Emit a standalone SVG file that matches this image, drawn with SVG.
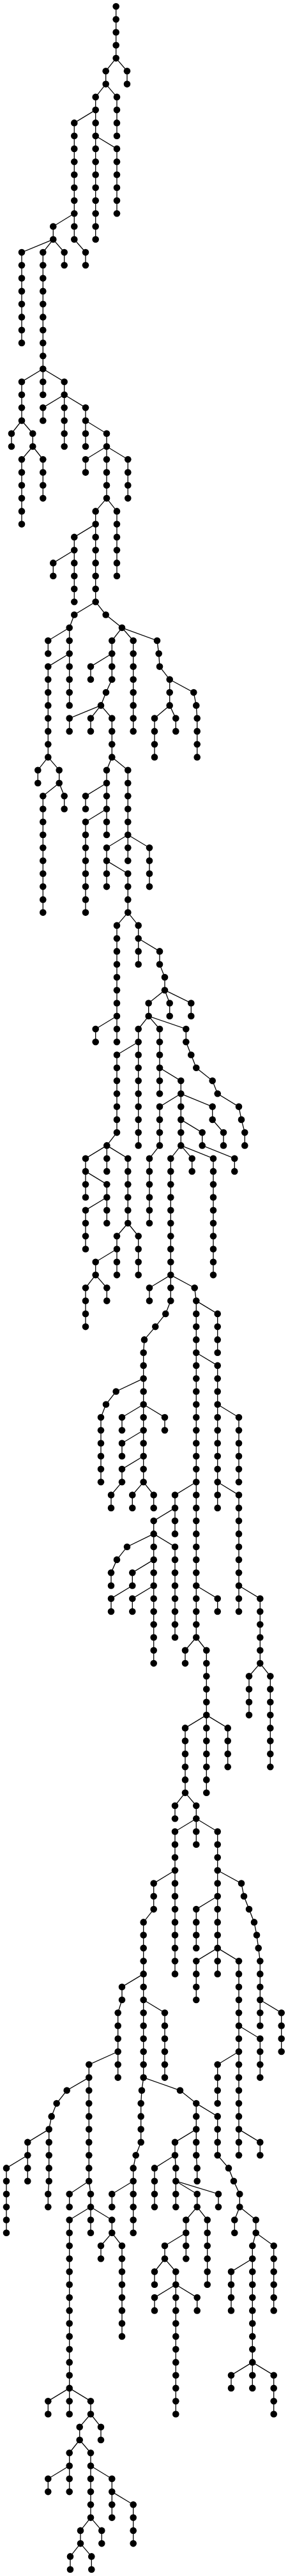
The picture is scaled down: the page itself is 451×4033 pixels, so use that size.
<svg xmlns="http://www.w3.org/2000/svg" width="451" height="4033" viewBox="0 0 451 4033">
<style>
rect.bg{fill:#fff}
#edges path{fill:none;stroke:#000;stroke-width:1.3}
circle{r:5.3px;fill:#000}
</style>
<rect class="bg" x="0" y="0" width="451" height="4033"/>
<g id="edges">
<path d="M181.7 10V91.1"/>
<path d="M181.7 91.1L199 111.3V131.6"/>
<path d="M181.7 91.1L165.7 111.3V131.6"/>
<path d="M165.7 131.6L183 151.9V212.7"/>
<path d="M165.7 131.6L149.7 151.9V172.1"/>
<path d="M149.7 172.1L116.3 192.4V334.3"/>
<path d="M149.7 172.1V212.7"/>
<path d="M149.7 212.7V374.8"/>
<path d="M149.7 212.7L183 232.9V334.3"/>
<path d="M116.3 334.3V374.8L134 395.1V415.3"/>
<path d="M116.3 334.3L83.3 354.5V374.8"/>
<path d="M83.3 374.8L34 395.1V536.9"/>
<path d="M83.3 374.8L67.3 395.1V577.5"/>
<path d="M83.3 374.8L100.7 395.1V415.3"/>
<path d="M67.3 577.5L34 597.7V658.5"/>
<path d="M67.3 577.5V618"/>
<path d="M67.3 577.5L100.7 597.7V618"/>
<path d="M34 658.5L18 678.8V699"/>
<path d="M34 658.5L51.3 678.8V699"/>
<path d="M51.3 699L34 719.3V820.6"/>
<path d="M51.3 699L67.3 719.3V780.1"/>
<path d="M100.7 618L67.3 638.2V658.5"/>
<path d="M100.7 618V699"/>
<path d="M100.7 618L134 638.2V658.5"/>
<path d="M134 658.5V699"/>
<path d="M134 658.5L167 678.8V699"/>
<path d="M167 699L134 719.3V739.6"/>
<path d="M167 699V780.1"/>
<path d="M167 699L200.3 719.3V780.1"/>
<path d="M167 780.1L149.7 800.4V820.6"/>
<path d="M167 780.1L183 800.4V901.7"/>
<path d="M149.7 820.6L116.3 840.9V861.2"/>
<path d="M149.7 820.6V942.2"/>
<path d="M116.3 861.2L83.3 881.4V901.7"/>
<path d="M116.3 861.2V942.2"/>
<path d="M149.7 942.2L116.3 962.5L108.7 982.8"/>
<path d="M149.7 942.2L165.7 962.5L191 982.8"/>
<path d="M108.7 982.8L75.3 1003V1023.3"/>
<path d="M108.7 982.8V1023.3"/>
<path d="M108.7 1023.3L75.3 1043.6V1185.4"/>
<path d="M108.7 1023.3V1104.4"/>
<path d="M75.3 1185.4L59.3 1205.7V1226"/>
<path d="M75.3 1185.4L92.7 1205.7V1226"/>
<path d="M92.7 1226L67.3 1246.2V1428.6"/>
<path d="M92.7 1226L100.7 1246.2V1266.5"/>
<path d="M191 982.8L175.3 1003V1023.3"/>
<path d="M191 982.8L208.7 1003V1144.9"/>
<path d="M191 982.8L246 1003L248.7 1023.3L250 1043.6L265.7 1063.8"/>
<path d="M175.3 1023.3L142 1043.6V1063.8"/>
<path d="M175.3 1023.3V1063.8L166 1084.1L158 1104.4"/>
<path d="M158 1104.4L108.7 1124.6V1144.9"/>
<path d="M158 1104.4L142 1124.6V1144.9"/>
<path d="M158 1104.4L175.3 1124.6V1185.4"/>
<path d="M175.3 1185.4L167 1205.7V1226"/>
<path d="M175.3 1185.4L200.3 1205.7V1307"/>
<path d="M167 1226L134 1246.2V1266.5"/>
<path d="M167 1226V1266.5"/>
<path d="M167 1266.5L134 1286.8V1428.6"/>
<path d="M167 1266.5V1307"/>
<path d="M200.3 1307L167 1327.3V1347.6"/>
<path d="M200.3 1307V1347.6"/>
<path d="M200.3 1307L234 1327.3V1388.1"/>
<path d="M167 1347.6V1388.1"/>
<path d="M167 1347.6L200.3 1367.8V1428.6"/>
<path d="M265.7 1063.8V1104.4"/>
<path d="M265.7 1063.8L303.3 1084.1L307.3 1104.4L308.7 1124.6V1185.4"/>
<path d="M265.7 1104.4L242 1124.6V1185.4"/>
<path d="M265.7 1104.4L275.3 1124.6V1144.9"/>
<path d="M200.3 1428.6L183 1448.9V1590.8"/>
<path d="M200.3 1428.6L216.7 1448.9V1469.2"/>
<path d="M183 1590.8L149.7 1611V1631.3"/>
<path d="M183 1590.8V1631.3"/>
<path d="M216.7 1469.2V1509.7"/>
<path d="M216.7 1469.2L250 1489.4V1509.7L258 1530V1550.2"/>
<path d="M258 1550.2L232.7 1570.5V1590.8"/>
<path d="M258 1550.2L265.7 1570.5V1590.8"/>
<path d="M258 1550.2L299.3 1570.5V1590.8"/>
<path d="M232.7 1590.8L216.7 1611V1631.3"/>
<path d="M232.7 1590.8L250 1611V1671.8"/>
<path d="M232.7 1590.8L291.3 1611V1631.3L299.3 1651.5L307.3 1671.8L332.7 1692.1L340.7 1712.3L374 1732.6L378 1752.9L383.3 1773.1V1793.4"/>
<path d="M216.7 1631.3L183 1651.5V1773.1"/>
<path d="M216.7 1631.3V1793.4"/>
<path d="M250 1671.8V1712.3"/>
<path d="M250 1671.8L283.3 1692.1V1712.3"/>
<path d="M283.3 1712.3L250 1732.6V1793.4L234 1813.7V1915"/>
<path d="M283.3 1712.3V1752.9"/>
<path d="M283.3 1712.3L332.7 1732.6V1752.9L350 1773.1V1793.4"/>
<path d="M283.3 1752.9V1793.4"/>
<path d="M283.3 1752.9L316.7 1773.1V1793.4L367.3 1813.7V1833.9"/>
<path d="M283.3 1793.4L267.3 1813.7V1996.1"/>
<path d="M283.3 1793.4L300.7 1813.7V1833.9"/>
<path d="M283.3 1793.4L334 1813.7V1996.1"/>
<path d="M183 1773.1L167.3 1793.4"/>
<path d="M167.3 1793.4L134 1813.7V1833.9"/>
<path d="M167.3 1793.4V1833.9"/>
<path d="M167.3 1793.4L200.3 1813.7V1915"/>
<path d="M134 1833.9V1874.5"/>
<path d="M134 1833.9L167.3 1854.2V1874.5"/>
<path d="M167.3 1874.5L134 1894.7V1955.5"/>
<path d="M167.3 1874.5V1915"/>
<path d="M200.3 1915L183 1935.3V1955.5"/>
<path d="M200.3 1915L216.7 1935.3V1996.1"/>
<path d="M183 1955.5L149.7 1975.8V1996.1"/>
<path d="M183 1955.5V1996.1"/>
<path d="M149.7 1996.1L134 2016.3V2077.1"/>
<path d="M149.7 1996.1L167.3 2016.3V2036.6"/>
<path d="M267.3 1996.1L234 2016.3V2036.6"/>
<path d="M267.3 1996.1V2036.6L259.3 2056.9L243.3 2077.1L226 2097.4L224.7 2117.7V2158.2"/>
<path d="M267.3 1996.1L304.7 2016.3L307.3 2036.6"/>
<path d="M307.3 2036.6V2117.7"/>
<path d="M307.3 2036.6L340.7 2056.9V2117.7"/>
<path d="M307.3 2117.7V2320.3"/>
<path d="M307.3 2117.7L340.7 2137.9V2198.7"/>
<path d="M340.7 2198.7V2320.3"/>
<path d="M340.7 2198.7L374 2219V2320.3"/>
<path d="M224.7 2158.2L181.7 2178.5L166 2198.7L158 2219V2320.3"/>
<path d="M224.7 2158.2V2198.7"/>
<path d="M224.7 2198.7L191 2219V2239.3"/>
<path d="M224.7 2198.7V2239.3"/>
<path d="M224.7 2198.7L258 2219V2239.3"/>
<path d="M224.7 2239.3L191 2259.5V2279.8"/>
<path d="M224.7 2239.3V2279.8"/>
<path d="M224.7 2279.8L191 2300.1V2320.3L174 2340.6V2360.9"/>
<path d="M224.7 2279.8V2320.3"/>
<path d="M224.7 2320.3L207.3 2340.6V2360.9"/>
<path d="M224.7 2320.3L240.7 2340.6V2360.9"/>
<path d="M307.3 2320.3L274 2340.6V2360.9"/>
<path d="M307.3 2320.3V2482.5"/>
<path d="M340.7 2320.3V2360.9"/>
<path d="M340.7 2320.3L374 2340.6V2482.5"/>
<path d="M274 2360.9L240.7 2381.1V2401.4"/>
<path d="M274 2360.9V2401.4"/>
<path d="M240.7 2401.4L199 2421.7L183 2441.9L174 2462.2V2482.5"/>
<path d="M240.7 2401.4V2441.9"/>
<path d="M240.7 2401.4L274 2421.7V2563.5"/>
<path d="M240.7 2441.9L207.3 2462.2V2482.5"/>
<path d="M240.7 2441.9V2482.5"/>
<path d="M207.3 2482.5L174 2502.7V2523"/>
<path d="M240.7 2482.5L207.3 2502.7V2523"/>
<path d="M240.7 2482.5V2604.1"/>
<path d="M307.3 2482.5V2563.5"/>
<path d="M307.3 2482.5L340.7 2502.7V2523"/>
<path d="M307.3 2563.5L290 2583.8V2604.1"/>
<path d="M307.3 2563.5L323.3 2583.8V2685.1"/>
<path d="M374 2482.5V2523"/>
<path d="M374 2482.5L407.3 2502.7V2604.1"/>
<path d="M407.3 2604.1L390 2624.3V2685.1"/>
<path d="M407.3 2604.1L423.3 2624.3V2766.2"/>
<path d="M323.3 2685.1L290 2705.4V2806.7"/>
<path d="M323.3 2685.1V2806.7"/>
<path d="M323.3 2685.1L356.7 2705.4V2766.2"/>
<path d="M290 2806.7L274 2827V2847.2"/>
<path d="M290 2806.7L307.3 2827V2847.2"/>
<path d="M307.3 2847.2L274 2867.5V2928.3"/>
<path d="M307.3 2847.2V2887.8"/>
<path d="M307.3 2847.2L340.7 2867.5V2928.3"/>
<path d="M274 2928.3L240.7 2948.6V2989.1L224.7 3009.4V3090.4"/>
<path d="M274 2928.3V3090.4"/>
<path d="M340.7 2928.3V2968.8"/>
<path d="M340.7 2928.3L378 2948.6L382 2968.8L390 2989.1L398 3009.4L402 3029.6L404.7 3049.9L407.3 3070.2V3131"/>
<path d="M340.7 2968.8L307.3 2989.1V3049.9"/>
<path d="M340.7 2968.8V3049.9"/>
<path d="M340.7 3049.9L307.3 3070.2V3131"/>
<path d="M340.7 3049.9V3090.4"/>
<path d="M340.7 3049.9L374 3070.2V3171.5"/>
<path d="M407.3 3131V3171.5"/>
<path d="M407.3 3131L440.7 3151.2V3212"/>
<path d="M374 3171.5V3212"/>
<path d="M374 3171.5L407.3 3191.8V3252.6"/>
<path d="M374 3212L340.7 3232.3V3293.1"/>
<path d="M374 3212V3333.6"/>
<path d="M374 3333.6V3374.2"/>
<path d="M374 3333.6L407.3 3353.9V3374.2"/>
<path d="M224.7 3090.4L191 3110.7V3131L184.7 3151.2V3212"/>
<path d="M224.7 3090.4V3131"/>
<path d="M184.7 3212L139.3 3232.3V3252.6"/>
<path d="M184.7 3212V3252.6"/>
<path d="M139.3 3252.6L104.7 3272.8L88.7 3293.1L80.7 3313.4L76.7 3333.6"/>
<path d="M139.3 3252.6V3414.7"/>
<path d="M76.7 3333.6L43.3 3353.9V3374.2"/>
<path d="M76.7 3333.6V3414.7L75.3 3435V3455.2"/>
<path d="M43.3 3374.2L10 3394.4V3495.8"/>
<path d="M43.3 3374.2V3414.7"/>
<path d="M139.3 3414.7L108.7 3435V3455.2"/>
<path d="M139.3 3414.7L142 3435V3455.2"/>
<path d="M142 3455.2L108.7 3475.5V3738.9"/>
<path d="M142 3455.2V3495.8"/>
<path d="M142 3455.2L175.3 3475.5V3495.8"/>
<path d="M175.3 3495.8L158 3516V3536.3"/>
<path d="M175.3 3495.8L191 3516V3657.9"/>
<path d="M224.7 3131V3252.6"/>
<path d="M224.7 3131L258 3151.2V3252.6"/>
<path d="M224.7 3252.6L222 3272.8L220.7 3293.1V3353.9L212.7 3374.2L208.7 3394.4V3414.7"/>
<path d="M224.7 3252.6L282 3272.8L307.3 3293.1"/>
<path d="M208.7 3414.7L175.3 3435V3455.2"/>
<path d="M208.7 3414.7V3495.8"/>
<path d="M307.3 3293.1V3333.6"/>
<path d="M307.3 3293.1L340.7 3313.4V3374.2L358 3394.4L366 3414.7L375.3 3435V3455.2"/>
<path d="M307.3 3333.6L274 3353.9V3374.2"/>
<path d="M307.3 3333.6V3374.2L308.7 3394.4V3414.7"/>
<path d="M274 3374.2L242 3394.4V3455.2"/>
<path d="M274 3374.2L275.3 3394.4V3414.7"/>
<path d="M275.3 3414.7V3455.2"/>
<path d="M275.3 3414.7L308.7 3435V3455.2"/>
<path d="M275.3 3414.7L342 3435V3455.2"/>
<path d="M308.7 3455.2L291.3 3475.5V3495.8"/>
<path d="M308.7 3455.2L324.7 3475.5V3576.8"/>
<path d="M291.3 3495.8L258 3516V3536.3"/>
<path d="M291.3 3495.8V3536.3"/>
<path d="M258 3536.3L242 3556.6V3576.8"/>
<path d="M258 3536.3L275.3 3556.6V3576.8"/>
<path d="M275.3 3576.8L242 3597.1V3617.4"/>
<path d="M275.3 3576.8V3779.5"/>
<path d="M275.3 3576.8L308.7 3597.1V3617.4"/>
<path d="M375.3 3455.2L367.3 3475.5V3495.8"/>
<path d="M375.3 3455.2L400.7 3475.5V3495.8"/>
<path d="M400.7 3495.8L395.3 3516V3536.3"/>
<path d="M400.7 3495.8L428.7 3516V3617.4"/>
<path d="M395.3 3536.3L362 3556.6V3617.4"/>
<path d="M395.3 3536.3V3698.4"/>
<path d="M395.3 3698.4L362 3718.7V3738.9"/>
<path d="M395.3 3698.4V3738.9"/>
<path d="M395.3 3698.4L428.7 3718.7V3779.5"/>
<path d="M108.7 3738.9L75.3 3759.2V3779.5"/>
<path d="M108.7 3738.9V3779.5"/>
<path d="M108.7 3738.9L142 3759.2V3779.5"/>
<path d="M142 3779.5L124.7 3799.7V3820"/>
<path d="M142 3779.5L158 3799.7V3820"/>
<path d="M124.7 3820L108.7 3840.3V3860.5"/>
<path d="M124.7 3820L142 3840.3V3860.5"/>
<path d="M108.7 3860.5L75.3 3880.8V3901.1"/>
<path d="M108.7 3860.5V3901.1"/>
<path d="M142 3860.5V3941.6"/>
<path d="M142 3860.5L175.3 3880.8V3901.1"/>
<path d="M175.3 3901.1V3941.6"/>
<path d="M175.3 3901.1L208.7 3921.3V3982.1"/>
<path d="M142 3941.6L126 3961.9V3982.1"/>
<path d="M142 3941.6L159.3 3961.9V3982.1"/>
<path d="M126 3982.1L110 4002.4V4022.7"/>
<path d="M126 3982.1L143.3 4002.4V4022.7"/>
</g>
<g id="nodes">
<g id="n1"><circle cx="181.7" cy="10"/></g>
<g id="n2"><circle cx="181.7" cy="30.3"/></g>
<g id="n3"><circle cx="181.7" cy="50.5"/></g>
<g id="n4"><circle cx="181.7" cy="70.8"/></g>
<g id="n5"><circle cx="181.7" cy="91.1"/></g>
<g id="n6"><circle cx="199" cy="111.3"/></g>
<g id="n7"><circle cx="199" cy="131.6"/></g>
<g id="n8"><circle cx="165.7" cy="111.3"/></g>
<g id="n9"><circle cx="165.7" cy="131.6"/></g>
<g id="n10"><circle cx="183" cy="151.9"/></g>
<g id="n11"><circle cx="183" cy="172.1"/></g>
<g id="n12"><circle cx="183" cy="192.4"/></g>
<g id="n13"><circle cx="183" cy="212.7"/></g>
<g id="n14"><circle cx="149.7" cy="151.9"/></g>
<g id="n15"><circle cx="149.7" cy="172.1"/></g>
<g id="n16"><circle cx="116.3" cy="192.4"/></g>
<g id="n17"><circle cx="116.3" cy="212.7"/></g>
<g id="n18"><circle cx="116.3" cy="232.9"/></g>
<g id="n19"><circle cx="116.3" cy="253.2"/></g>
<g id="n20"><circle cx="116.3" cy="273.5"/></g>
<g id="n21"><circle cx="116.3" cy="293.7"/></g>
<g id="n22"><circle cx="116.3" cy="314"/></g>
<g id="n23"><circle cx="116.3" cy="334.3"/></g>
<g id="n24"><circle cx="149.7" cy="192.4"/></g>
<g id="n25"><circle cx="149.7" cy="212.7"/></g>
<g id="n26"><circle cx="149.7" cy="232.9"/></g>
<g id="n27"><circle cx="149.7" cy="253.2"/></g>
<g id="n28"><circle cx="149.7" cy="273.5"/></g>
<g id="n29"><circle cx="149.7" cy="293.7"/></g>
<g id="n30"><circle cx="149.7" cy="314"/></g>
<g id="n31"><circle cx="149.7" cy="334.3"/></g>
<g id="n32"><circle cx="149.7" cy="354.5"/></g>
<g id="n33"><circle cx="149.7" cy="374.8"/></g>
<g id="n34"><circle cx="183" cy="232.9"/></g>
<g id="n35"><circle cx="183" cy="253.2"/></g>
<g id="n36"><circle cx="183" cy="273.5"/></g>
<g id="n37"><circle cx="183" cy="293.7"/></g>
<g id="n38"><circle cx="183" cy="314"/></g>
<g id="n39"><circle cx="183" cy="334.3"/></g>
<g id="n40"><circle cx="116.3" cy="354.5"/></g>
<g id="n41"><circle cx="116.3" cy="374.8"/></g>
<g id="n42"><circle cx="134" cy="395.1"/></g>
<g id="n43"><circle cx="134" cy="415.3"/></g>
<g id="n44"><circle cx="83.3" cy="354.5"/></g>
<g id="n45"><circle cx="83.3" cy="374.8"/></g>
<g id="n46"><circle cx="34" cy="395.1"/></g>
<g id="n47"><circle cx="34" cy="415.3"/></g>
<g id="n48"><circle cx="34" cy="435.6"/></g>
<g id="n49"><circle cx="34" cy="455.9"/></g>
<g id="n50"><circle cx="34" cy="476.1"/></g>
<g id="n51"><circle cx="34" cy="496.4"/></g>
<g id="n52"><circle cx="34" cy="516.7"/></g>
<g id="n53"><circle cx="34" cy="536.9"/></g>
<g id="n54"><circle cx="67.3" cy="395.1"/></g>
<g id="n55"><circle cx="67.3" cy="415.3"/></g>
<g id="n56"><circle cx="67.3" cy="435.6"/></g>
<g id="n57"><circle cx="67.3" cy="455.9"/></g>
<g id="n58"><circle cx="67.3" cy="476.1"/></g>
<g id="n59"><circle cx="67.3" cy="496.4"/></g>
<g id="n60"><circle cx="67.3" cy="516.7"/></g>
<g id="n61"><circle cx="67.3" cy="536.9"/></g>
<g id="n62"><circle cx="67.3" cy="557.2"/></g>
<g id="n63"><circle cx="67.3" cy="577.5"/></g>
<g id="n64"><circle cx="100.7" cy="395.1"/></g>
<g id="n65"><circle cx="100.7" cy="415.3"/></g>
<g id="n66"><circle cx="34" cy="597.7"/></g>
<g id="n67"><circle cx="34" cy="618"/></g>
<g id="n68"><circle cx="34" cy="638.2"/></g>
<g id="n69"><circle cx="34" cy="658.5"/></g>
<g id="n70"><circle cx="67.3" cy="597.7"/></g>
<g id="n71"><circle cx="67.3" cy="618"/></g>
<g id="n72"><circle cx="100.7" cy="597.7"/></g>
<g id="n73"><circle cx="100.7" cy="618"/></g>
<g id="n74"><circle cx="18" cy="678.8"/></g>
<g id="n75"><circle cx="18" cy="699"/></g>
<g id="n76"><circle cx="51.3" cy="678.8"/></g>
<g id="n77"><circle cx="51.3" cy="699"/></g>
<g id="n78"><circle cx="34" cy="719.3"/></g>
<g id="n79"><circle cx="34" cy="739.6"/></g>
<g id="n80"><circle cx="34" cy="759.8"/></g>
<g id="n81"><circle cx="34" cy="780.1"/></g>
<g id="n82"><circle cx="34" cy="800.4"/></g>
<g id="n83"><circle cx="34" cy="820.6"/></g>
<g id="n84"><circle cx="67.3" cy="719.3"/></g>
<g id="n85"><circle cx="67.3" cy="739.6"/></g>
<g id="n86"><circle cx="67.3" cy="759.8"/></g>
<g id="n87"><circle cx="67.3" cy="780.1"/></g>
<g id="n88"><circle cx="67.3" cy="638.2"/></g>
<g id="n89"><circle cx="67.3" cy="658.5"/></g>
<g id="n90"><circle cx="100.7" cy="638.2"/></g>
<g id="n91"><circle cx="100.7" cy="658.5"/></g>
<g id="n92"><circle cx="100.7" cy="678.8"/></g>
<g id="n93"><circle cx="100.7" cy="699"/></g>
<g id="n94"><circle cx="134" cy="638.2"/></g>
<g id="n95"><circle cx="134" cy="658.5"/></g>
<g id="n96"><circle cx="134" cy="678.8"/></g>
<g id="n97"><circle cx="134" cy="699"/></g>
<g id="n98"><circle cx="167" cy="678.8"/></g>
<g id="n99"><circle cx="167" cy="699"/></g>
<g id="n100"><circle cx="134" cy="719.3"/></g>
<g id="n101"><circle cx="134" cy="739.6"/></g>
<g id="n102"><circle cx="167" cy="719.3"/></g>
<g id="n103"><circle cx="167" cy="739.6"/></g>
<g id="n104"><circle cx="167" cy="759.8"/></g>
<g id="n105"><circle cx="167" cy="780.1"/></g>
<g id="n106"><circle cx="200.3" cy="719.3"/></g>
<g id="n107"><circle cx="200.3" cy="739.6"/></g>
<g id="n108"><circle cx="200.3" cy="759.8"/></g>
<g id="n109"><circle cx="200.3" cy="780.1"/></g>
<g id="n110"><circle cx="149.7" cy="800.4"/></g>
<g id="n111"><circle cx="149.7" cy="820.6"/></g>
<g id="n112"><circle cx="183" cy="800.4"/></g>
<g id="n113"><circle cx="183" cy="820.6"/></g>
<g id="n114"><circle cx="183" cy="840.9"/></g>
<g id="n115"><circle cx="183" cy="861.2"/></g>
<g id="n116"><circle cx="183" cy="881.4"/></g>
<g id="n117"><circle cx="183" cy="901.7"/></g>
<g id="n118"><circle cx="116.3" cy="840.9"/></g>
<g id="n119"><circle cx="116.3" cy="861.2"/></g>
<g id="n120"><circle cx="149.7" cy="840.9"/></g>
<g id="n121"><circle cx="149.7" cy="861.2"/></g>
<g id="n122"><circle cx="149.7" cy="881.4"/></g>
<g id="n123"><circle cx="149.7" cy="901.7"/></g>
<g id="n124"><circle cx="149.7" cy="922"/></g>
<g id="n125"><circle cx="149.7" cy="942.2"/></g>
<g id="n126"><circle cx="83.3" cy="881.4"/></g>
<g id="n127"><circle cx="83.3" cy="901.7"/></g>
<g id="n128"><circle cx="116.3" cy="881.4"/></g>
<g id="n129"><circle cx="116.3" cy="901.7"/></g>
<g id="n130"><circle cx="116.3" cy="922"/></g>
<g id="n131"><circle cx="116.3" cy="942.2"/></g>
<g id="n132"><circle cx="116.3" cy="962.5"/></g>
<g id="n133"><circle cx="108.7" cy="982.8"/></g>
<g id="n134"><circle cx="165.7" cy="962.5"/></g>
<g id="n135"><circle cx="191" cy="982.8"/></g>
<g id="n136"><circle cx="75.3" cy="1003"/></g>
<g id="n137"><circle cx="75.3" cy="1023.3"/></g>
<g id="n138"><circle cx="108.7" cy="1003"/></g>
<g id="n139"><circle cx="108.7" cy="1023.3"/></g>
<g id="n140"><circle cx="75.3" cy="1043.6"/></g>
<g id="n141"><circle cx="75.3" cy="1063.8"/></g>
<g id="n142"><circle cx="75.3" cy="1084.1"/></g>
<g id="n143"><circle cx="75.3" cy="1104.4"/></g>
<g id="n144"><circle cx="75.3" cy="1124.6"/></g>
<g id="n145"><circle cx="75.3" cy="1144.9"/></g>
<g id="n146"><circle cx="75.3" cy="1165.2"/></g>
<g id="n147"><circle cx="75.3" cy="1185.4"/></g>
<g id="n148"><circle cx="108.7" cy="1043.6"/></g>
<g id="n149"><circle cx="108.7" cy="1063.8"/></g>
<g id="n150"><circle cx="108.7" cy="1084.1"/></g>
<g id="n151"><circle cx="108.7" cy="1104.4"/></g>
<g id="n152"><circle cx="59.3" cy="1205.7"/></g>
<g id="n153"><circle cx="59.3" cy="1226"/></g>
<g id="n154"><circle cx="92.7" cy="1205.7"/></g>
<g id="n155"><circle cx="92.7" cy="1226"/></g>
<g id="n156"><circle cx="67.3" cy="1246.2"/></g>
<g id="n157"><circle cx="67.3" cy="1266.5"/></g>
<g id="n158"><circle cx="67.3" cy="1286.8"/></g>
<g id="n159"><circle cx="67.3" cy="1307"/></g>
<g id="n160"><circle cx="67.3" cy="1327.3"/></g>
<g id="n161"><circle cx="67.3" cy="1347.6"/></g>
<g id="n162"><circle cx="67.3" cy="1367.8"/></g>
<g id="n163"><circle cx="67.3" cy="1388.1"/></g>
<g id="n164"><circle cx="67.3" cy="1408.4"/></g>
<g id="n165"><circle cx="67.3" cy="1428.6"/></g>
<g id="n166"><circle cx="100.7" cy="1246.2"/></g>
<g id="n167"><circle cx="100.7" cy="1266.5"/></g>
<g id="n168"><circle cx="175.3" cy="1003"/></g>
<g id="n169"><circle cx="175.3" cy="1023.3"/></g>
<g id="n170"><circle cx="208.7" cy="1003"/></g>
<g id="n171"><circle cx="208.7" cy="1023.3"/></g>
<g id="n172"><circle cx="208.7" cy="1043.6"/></g>
<g id="n173"><circle cx="208.7" cy="1063.8"/></g>
<g id="n174"><circle cx="208.7" cy="1084.1"/></g>
<g id="n175"><circle cx="208.7" cy="1104.4"/></g>
<g id="n176"><circle cx="208.7" cy="1124.6"/></g>
<g id="n177"><circle cx="208.7" cy="1144.9"/></g>
<g id="n178"><circle cx="246" cy="1003"/></g>
<g id="n179"><circle cx="248.7" cy="1023.3"/></g>
<g id="n180"><circle cx="250" cy="1043.6"/></g>
<g id="n181"><circle cx="265.7" cy="1063.8"/></g>
<g id="n182"><circle cx="142" cy="1043.6"/></g>
<g id="n183"><circle cx="142" cy="1063.8"/></g>
<g id="n184"><circle cx="175.3" cy="1043.6"/></g>
<g id="n185"><circle cx="175.3" cy="1063.8"/></g>
<g id="n186"><circle cx="166" cy="1084.1"/></g>
<g id="n187"><circle cx="158" cy="1104.4"/></g>
<g id="n188"><circle cx="108.7" cy="1124.6"/></g>
<g id="n189"><circle cx="108.7" cy="1144.9"/></g>
<g id="n190"><circle cx="142" cy="1124.6"/></g>
<g id="n191"><circle cx="142" cy="1144.9"/></g>
<g id="n192"><circle cx="175.3" cy="1124.6"/></g>
<g id="n193"><circle cx="175.3" cy="1144.9"/></g>
<g id="n194"><circle cx="175.3" cy="1165.2"/></g>
<g id="n195"><circle cx="175.3" cy="1185.4"/></g>
<g id="n196"><circle cx="167" cy="1205.7"/></g>
<g id="n197"><circle cx="167" cy="1226"/></g>
<g id="n198"><circle cx="200.3" cy="1205.7"/></g>
<g id="n199"><circle cx="200.3" cy="1226"/></g>
<g id="n200"><circle cx="200.3" cy="1246.2"/></g>
<g id="n201"><circle cx="200.3" cy="1266.5"/></g>
<g id="n202"><circle cx="200.3" cy="1286.8"/></g>
<g id="n203"><circle cx="200.3" cy="1307"/></g>
<g id="n204"><circle cx="134" cy="1246.2"/></g>
<g id="n205"><circle cx="134" cy="1266.5"/></g>
<g id="n206"><circle cx="167" cy="1246.2"/></g>
<g id="n207"><circle cx="167" cy="1266.5"/></g>
<g id="n208"><circle cx="134" cy="1286.8"/></g>
<g id="n209"><circle cx="134" cy="1307"/></g>
<g id="n210"><circle cx="134" cy="1327.3"/></g>
<g id="n211"><circle cx="134" cy="1347.6"/></g>
<g id="n212"><circle cx="134" cy="1367.8"/></g>
<g id="n213"><circle cx="134" cy="1388.1"/></g>
<g id="n214"><circle cx="134" cy="1408.4"/></g>
<g id="n215"><circle cx="134" cy="1428.6"/></g>
<g id="n216"><circle cx="167" cy="1286.8"/></g>
<g id="n217"><circle cx="167" cy="1307"/></g>
<g id="n218"><circle cx="167" cy="1327.3"/></g>
<g id="n219"><circle cx="167" cy="1347.6"/></g>
<g id="n220"><circle cx="200.3" cy="1327.3"/></g>
<g id="n221"><circle cx="200.3" cy="1347.6"/></g>
<g id="n222"><circle cx="234" cy="1327.3"/></g>
<g id="n223"><circle cx="234" cy="1347.6"/></g>
<g id="n224"><circle cx="234" cy="1367.8"/></g>
<g id="n225"><circle cx="234" cy="1388.1"/></g>
<g id="n226"><circle cx="167" cy="1367.8"/></g>
<g id="n227"><circle cx="167" cy="1388.1"/></g>
<g id="n228"><circle cx="200.3" cy="1367.8"/></g>
<g id="n229"><circle cx="200.3" cy="1388.1"/></g>
<g id="n230"><circle cx="200.3" cy="1408.4"/></g>
<g id="n231"><circle cx="200.3" cy="1428.6"/></g>
<g id="n232"><circle cx="265.7" cy="1084.1"/></g>
<g id="n233"><circle cx="265.7" cy="1104.4"/></g>
<g id="n234"><circle cx="303.3" cy="1084.1"/></g>
<g id="n235"><circle cx="307.3" cy="1104.4"/></g>
<g id="n236"><circle cx="308.7" cy="1124.6"/></g>
<g id="n237"><circle cx="308.7" cy="1144.9"/></g>
<g id="n238"><circle cx="308.7" cy="1165.2"/></g>
<g id="n239"><circle cx="308.7" cy="1185.4"/></g>
<g id="n240"><circle cx="242" cy="1124.6"/></g>
<g id="n241"><circle cx="242" cy="1144.9"/></g>
<g id="n242"><circle cx="242" cy="1165.2"/></g>
<g id="n243"><circle cx="242" cy="1185.4"/></g>
<g id="n244"><circle cx="275.3" cy="1124.6"/></g>
<g id="n245"><circle cx="275.3" cy="1144.9"/></g>
<g id="n246"><circle cx="183" cy="1448.9"/></g>
<g id="n247"><circle cx="183" cy="1469.2"/></g>
<g id="n248"><circle cx="183" cy="1489.4"/></g>
<g id="n249"><circle cx="183" cy="1509.7"/></g>
<g id="n250"><circle cx="183" cy="1530"/></g>
<g id="n251"><circle cx="183" cy="1550.2"/></g>
<g id="n252"><circle cx="183" cy="1570.5"/></g>
<g id="n253"><circle cx="183" cy="1590.8"/></g>
<g id="n254"><circle cx="216.7" cy="1448.9"/></g>
<g id="n255"><circle cx="216.7" cy="1469.2"/></g>
<g id="n256"><circle cx="149.7" cy="1611"/></g>
<g id="n257"><circle cx="149.7" cy="1631.3"/></g>
<g id="n258"><circle cx="183" cy="1611"/></g>
<g id="n259"><circle cx="183" cy="1631.3"/></g>
<g id="n260"><circle cx="216.7" cy="1489.4"/></g>
<g id="n261"><circle cx="216.7" cy="1509.7"/></g>
<g id="n262"><circle cx="250" cy="1489.4"/></g>
<g id="n263"><circle cx="250" cy="1509.7"/></g>
<g id="n264"><circle cx="258" cy="1530"/></g>
<g id="n265"><circle cx="258" cy="1550.2"/></g>
<g id="n266"><circle cx="232.7" cy="1570.5"/></g>
<g id="n267"><circle cx="232.7" cy="1590.8"/></g>
<g id="n268"><circle cx="265.7" cy="1570.5"/></g>
<g id="n269"><circle cx="265.7" cy="1590.8"/></g>
<g id="n270"><circle cx="299.3" cy="1570.5"/></g>
<g id="n271"><circle cx="299.3" cy="1590.8"/></g>
<g id="n272"><circle cx="216.7" cy="1611"/></g>
<g id="n273"><circle cx="216.7" cy="1631.3"/></g>
<g id="n274"><circle cx="250" cy="1611"/></g>
<g id="n275"><circle cx="250" cy="1631.3"/></g>
<g id="n276"><circle cx="250" cy="1651.5"/></g>
<g id="n277"><circle cx="250" cy="1671.8"/></g>
<g id="n278"><circle cx="291.3" cy="1611"/></g>
<g id="n279"><circle cx="291.3" cy="1631.3"/></g>
<g id="n280"><circle cx="299.3" cy="1651.5"/></g>
<g id="n281"><circle cx="307.3" cy="1671.8"/></g>
<g id="n282"><circle cx="332.7" cy="1692.1"/></g>
<g id="n283"><circle cx="340.7" cy="1712.3"/></g>
<g id="n284"><circle cx="374" cy="1732.6"/></g>
<g id="n285"><circle cx="378" cy="1752.9"/></g>
<g id="n286"><circle cx="383.3" cy="1773.1"/></g>
<g id="n287"><circle cx="383.3" cy="1793.4"/></g>
<g id="n288"><circle cx="183" cy="1651.5"/></g>
<g id="n289"><circle cx="183" cy="1671.8"/></g>
<g id="n290"><circle cx="183" cy="1692.1"/></g>
<g id="n291"><circle cx="183" cy="1712.3"/></g>
<g id="n292"><circle cx="183" cy="1732.6"/></g>
<g id="n293"><circle cx="183" cy="1752.9"/></g>
<g id="n294"><circle cx="183" cy="1773.1"/></g>
<g id="n295"><circle cx="216.7" cy="1651.5"/></g>
<g id="n296"><circle cx="216.7" cy="1671.8"/></g>
<g id="n297"><circle cx="216.7" cy="1692.1"/></g>
<g id="n298"><circle cx="216.7" cy="1712.3"/></g>
<g id="n299"><circle cx="216.7" cy="1732.6"/></g>
<g id="n300"><circle cx="216.7" cy="1752.9"/></g>
<g id="n301"><circle cx="216.7" cy="1773.1"/></g>
<g id="n302"><circle cx="216.7" cy="1793.4"/></g>
<g id="n303"><circle cx="250" cy="1692.1"/></g>
<g id="n304"><circle cx="250" cy="1712.3"/></g>
<g id="n305"><circle cx="283.3" cy="1692.1"/></g>
<g id="n306"><circle cx="283.3" cy="1712.3"/></g>
<g id="n307"><circle cx="250" cy="1732.6"/></g>
<g id="n308"><circle cx="250" cy="1752.9"/></g>
<g id="n309"><circle cx="250" cy="1773.1"/></g>
<g id="n310"><circle cx="250" cy="1793.4"/></g>
<g id="n311"><circle cx="234" cy="1813.7"/></g>
<g id="n312"><circle cx="234" cy="1833.9"/></g>
<g id="n313"><circle cx="234" cy="1854.2"/></g>
<g id="n314"><circle cx="234" cy="1874.5"/></g>
<g id="n315"><circle cx="234" cy="1894.7"/></g>
<g id="n316"><circle cx="234" cy="1915"/></g>
<g id="n317"><circle cx="283.3" cy="1732.6"/></g>
<g id="n318"><circle cx="283.3" cy="1752.9"/></g>
<g id="n319"><circle cx="332.7" cy="1732.6"/></g>
<g id="n320"><circle cx="332.7" cy="1752.9"/></g>
<g id="n321"><circle cx="350" cy="1773.1"/></g>
<g id="n322"><circle cx="350" cy="1793.4"/></g>
<g id="n323"><circle cx="283.3" cy="1773.1"/></g>
<g id="n324"><circle cx="283.3" cy="1793.4"/></g>
<g id="n325"><circle cx="316.7" cy="1773.1"/></g>
<g id="n326"><circle cx="316.7" cy="1793.4"/></g>
<g id="n327"><circle cx="367.3" cy="1813.7"/></g>
<g id="n328"><circle cx="367.3" cy="1833.9"/></g>
<g id="n329"><circle cx="267.3" cy="1813.7"/></g>
<g id="n330"><circle cx="267.3" cy="1833.9"/></g>
<g id="n331"><circle cx="267.3" cy="1854.2"/></g>
<g id="n332"><circle cx="267.3" cy="1874.5"/></g>
<g id="n333"><circle cx="267.3" cy="1894.7"/></g>
<g id="n334"><circle cx="267.3" cy="1915"/></g>
<g id="n335"><circle cx="267.3" cy="1935.3"/></g>
<g id="n336"><circle cx="267.3" cy="1955.5"/></g>
<g id="n337"><circle cx="267.3" cy="1975.8"/></g>
<g id="n338"><circle cx="267.3" cy="1996.1"/></g>
<g id="n339"><circle cx="300.7" cy="1813.7"/></g>
<g id="n340"><circle cx="300.7" cy="1833.9"/></g>
<g id="n341"><circle cx="334" cy="1813.7"/></g>
<g id="n342"><circle cx="334" cy="1833.9"/></g>
<g id="n343"><circle cx="334" cy="1854.2"/></g>
<g id="n344"><circle cx="334" cy="1874.5"/></g>
<g id="n345"><circle cx="334" cy="1894.7"/></g>
<g id="n346"><circle cx="334" cy="1915"/></g>
<g id="n347"><circle cx="334" cy="1935.3"/></g>
<g id="n348"><circle cx="334" cy="1955.5"/></g>
<g id="n349"><circle cx="334" cy="1975.8"/></g>
<g id="n350"><circle cx="334" cy="1996.1"/></g>
<g id="n351"><circle cx="167.3" cy="1793.4"/></g>
<g id="n352"><circle cx="134" cy="1813.7"/></g>
<g id="n353"><circle cx="134" cy="1833.9"/></g>
<g id="n354"><circle cx="167.3" cy="1813.7"/></g>
<g id="n355"><circle cx="167.3" cy="1833.9"/></g>
<g id="n356"><circle cx="200.3" cy="1813.7"/></g>
<g id="n357"><circle cx="200.3" cy="1833.9"/></g>
<g id="n358"><circle cx="200.3" cy="1854.2"/></g>
<g id="n359"><circle cx="200.3" cy="1874.5"/></g>
<g id="n360"><circle cx="200.3" cy="1894.7"/></g>
<g id="n361"><circle cx="200.3" cy="1915"/></g>
<g id="n362"><circle cx="134" cy="1854.2"/></g>
<g id="n363"><circle cx="134" cy="1874.5"/></g>
<g id="n364"><circle cx="167.3" cy="1854.2"/></g>
<g id="n365"><circle cx="167.3" cy="1874.5"/></g>
<g id="n366"><circle cx="134" cy="1894.7"/></g>
<g id="n367"><circle cx="134" cy="1915"/></g>
<g id="n368"><circle cx="134" cy="1935.3"/></g>
<g id="n369"><circle cx="134" cy="1955.5"/></g>
<g id="n370"><circle cx="167.3" cy="1894.7"/></g>
<g id="n371"><circle cx="167.3" cy="1915"/></g>
<g id="n372"><circle cx="183" cy="1935.3"/></g>
<g id="n373"><circle cx="183" cy="1955.5"/></g>
<g id="n374"><circle cx="216.7" cy="1935.3"/></g>
<g id="n375"><circle cx="216.7" cy="1955.5"/></g>
<g id="n376"><circle cx="216.7" cy="1975.8"/></g>
<g id="n377"><circle cx="216.7" cy="1996.1"/></g>
<g id="n378"><circle cx="149.7" cy="1975.8"/></g>
<g id="n379"><circle cx="149.7" cy="1996.1"/></g>
<g id="n380"><circle cx="183" cy="1975.8"/></g>
<g id="n381"><circle cx="183" cy="1996.1"/></g>
<g id="n382"><circle cx="134" cy="2016.3"/></g>
<g id="n383"><circle cx="134" cy="2036.6"/></g>
<g id="n384"><circle cx="134" cy="2056.9"/></g>
<g id="n385"><circle cx="134" cy="2077.1"/></g>
<g id="n386"><circle cx="167.3" cy="2016.3"/></g>
<g id="n387"><circle cx="167.3" cy="2036.6"/></g>
<g id="n388"><circle cx="234" cy="2016.3"/></g>
<g id="n389"><circle cx="234" cy="2036.6"/></g>
<g id="n390"><circle cx="267.3" cy="2016.3"/></g>
<g id="n391"><circle cx="267.3" cy="2036.6"/></g>
<g id="n392"><circle cx="259.3" cy="2056.9"/></g>
<g id="n393"><circle cx="243.3" cy="2077.1"/></g>
<g id="n394"><circle cx="226" cy="2097.4"/></g>
<g id="n395"><circle cx="224.7" cy="2117.7"/></g>
<g id="n396"><circle cx="224.7" cy="2137.9"/></g>
<g id="n397"><circle cx="224.7" cy="2158.2"/></g>
<g id="n398"><circle cx="304.7" cy="2016.3"/></g>
<g id="n399"><circle cx="307.3" cy="2036.6"/></g>
<g id="n400"><circle cx="307.3" cy="2056.9"/></g>
<g id="n401"><circle cx="307.3" cy="2077.1"/></g>
<g id="n402"><circle cx="307.3" cy="2097.4"/></g>
<g id="n403"><circle cx="307.3" cy="2117.7"/></g>
<g id="n404"><circle cx="340.7" cy="2056.9"/></g>
<g id="n405"><circle cx="340.7" cy="2077.1"/></g>
<g id="n406"><circle cx="340.7" cy="2097.4"/></g>
<g id="n407"><circle cx="340.7" cy="2117.7"/></g>
<g id="n408"><circle cx="307.3" cy="2137.9"/></g>
<g id="n409"><circle cx="307.3" cy="2158.2"/></g>
<g id="n410"><circle cx="307.3" cy="2178.5"/></g>
<g id="n411"><circle cx="307.3" cy="2198.7"/></g>
<g id="n412"><circle cx="307.3" cy="2219"/></g>
<g id="n413"><circle cx="307.3" cy="2239.3"/></g>
<g id="n414"><circle cx="307.3" cy="2259.5"/></g>
<g id="n415"><circle cx="307.3" cy="2279.8"/></g>
<g id="n416"><circle cx="307.3" cy="2300.1"/></g>
<g id="n417"><circle cx="307.3" cy="2320.3"/></g>
<g id="n418"><circle cx="340.7" cy="2137.9"/></g>
<g id="n419"><circle cx="340.7" cy="2158.2"/></g>
<g id="n420"><circle cx="340.7" cy="2178.5"/></g>
<g id="n421"><circle cx="340.7" cy="2198.7"/></g>
<g id="n422"><circle cx="340.7" cy="2219"/></g>
<g id="n423"><circle cx="340.7" cy="2239.3"/></g>
<g id="n424"><circle cx="340.7" cy="2259.5"/></g>
<g id="n425"><circle cx="340.7" cy="2279.8"/></g>
<g id="n426"><circle cx="340.7" cy="2300.1"/></g>
<g id="n427"><circle cx="340.7" cy="2320.3"/></g>
<g id="n428"><circle cx="374" cy="2219"/></g>
<g id="n429"><circle cx="374" cy="2239.3"/></g>
<g id="n430"><circle cx="374" cy="2259.5"/></g>
<g id="n431"><circle cx="374" cy="2279.8"/></g>
<g id="n432"><circle cx="374" cy="2300.1"/></g>
<g id="n433"><circle cx="374" cy="2320.3"/></g>
<g id="n434"><circle cx="181.7" cy="2178.5"/></g>
<g id="n435"><circle cx="166" cy="2198.7"/></g>
<g id="n436"><circle cx="158" cy="2219"/></g>
<g id="n437"><circle cx="158" cy="2239.3"/></g>
<g id="n438"><circle cx="158" cy="2259.5"/></g>
<g id="n439"><circle cx="158" cy="2279.8"/></g>
<g id="n440"><circle cx="158" cy="2300.1"/></g>
<g id="n441"><circle cx="158" cy="2320.3"/></g>
<g id="n442"><circle cx="224.7" cy="2178.5"/></g>
<g id="n443"><circle cx="224.7" cy="2198.7"/></g>
<g id="n444"><circle cx="191" cy="2219"/></g>
<g id="n445"><circle cx="191" cy="2239.3"/></g>
<g id="n446"><circle cx="224.7" cy="2219"/></g>
<g id="n447"><circle cx="224.7" cy="2239.3"/></g>
<g id="n448"><circle cx="258" cy="2219"/></g>
<g id="n449"><circle cx="258" cy="2239.3"/></g>
<g id="n450"><circle cx="191" cy="2259.5"/></g>
<g id="n451"><circle cx="191" cy="2279.8"/></g>
<g id="n452"><circle cx="224.7" cy="2259.5"/></g>
<g id="n453"><circle cx="224.7" cy="2279.8"/></g>
<g id="n454"><circle cx="191" cy="2300.1"/></g>
<g id="n455"><circle cx="191" cy="2320.3"/></g>
<g id="n456"><circle cx="174" cy="2340.6"/></g>
<g id="n457"><circle cx="174" cy="2360.9"/></g>
<g id="n458"><circle cx="224.7" cy="2300.1"/></g>
<g id="n459"><circle cx="224.7" cy="2320.3"/></g>
<g id="n460"><circle cx="207.3" cy="2340.6"/></g>
<g id="n461"><circle cx="207.3" cy="2360.9"/></g>
<g id="n462"><circle cx="240.7" cy="2340.6"/></g>
<g id="n463"><circle cx="240.7" cy="2360.9"/></g>
<g id="n464"><circle cx="274" cy="2340.6"/></g>
<g id="n465"><circle cx="274" cy="2360.9"/></g>
<g id="n466"><circle cx="307.3" cy="2340.6"/></g>
<g id="n467"><circle cx="307.3" cy="2360.9"/></g>
<g id="n468"><circle cx="307.3" cy="2381.1"/></g>
<g id="n469"><circle cx="307.3" cy="2401.4"/></g>
<g id="n470"><circle cx="307.3" cy="2421.7"/></g>
<g id="n471"><circle cx="307.3" cy="2441.9"/></g>
<g id="n472"><circle cx="307.3" cy="2462.2"/></g>
<g id="n473"><circle cx="307.3" cy="2482.5"/></g>
<g id="n474"><circle cx="340.7" cy="2340.6"/></g>
<g id="n475"><circle cx="340.7" cy="2360.9"/></g>
<g id="n476"><circle cx="374" cy="2340.6"/></g>
<g id="n477"><circle cx="374" cy="2360.9"/></g>
<g id="n478"><circle cx="374" cy="2381.1"/></g>
<g id="n479"><circle cx="374" cy="2401.4"/></g>
<g id="n480"><circle cx="374" cy="2421.7"/></g>
<g id="n481"><circle cx="374" cy="2441.9"/></g>
<g id="n482"><circle cx="374" cy="2462.2"/></g>
<g id="n483"><circle cx="374" cy="2482.5"/></g>
<g id="n484"><circle cx="240.7" cy="2381.1"/></g>
<g id="n485"><circle cx="240.7" cy="2401.4"/></g>
<g id="n486"><circle cx="274" cy="2381.1"/></g>
<g id="n487"><circle cx="274" cy="2401.4"/></g>
<g id="n488"><circle cx="199" cy="2421.7"/></g>
<g id="n489"><circle cx="183" cy="2441.9"/></g>
<g id="n490"><circle cx="174" cy="2462.2"/></g>
<g id="n491"><circle cx="174" cy="2482.5"/></g>
<g id="n492"><circle cx="240.7" cy="2421.7"/></g>
<g id="n493"><circle cx="240.7" cy="2441.9"/></g>
<g id="n494"><circle cx="274" cy="2421.7"/></g>
<g id="n495"><circle cx="274" cy="2441.9"/></g>
<g id="n496"><circle cx="274" cy="2462.2"/></g>
<g id="n497"><circle cx="274" cy="2482.5"/></g>
<g id="n498"><circle cx="274" cy="2502.7"/></g>
<g id="n499"><circle cx="274" cy="2523"/></g>
<g id="n500"><circle cx="274" cy="2543.3"/></g>
<g id="n501"><circle cx="274" cy="2563.5"/></g>
<g id="n502"><circle cx="207.3" cy="2462.2"/></g>
<g id="n503"><circle cx="207.3" cy="2482.5"/></g>
<g id="n504"><circle cx="240.7" cy="2462.2"/></g>
<g id="n505"><circle cx="240.7" cy="2482.5"/></g>
<g id="n506"><circle cx="174" cy="2502.7"/></g>
<g id="n507"><circle cx="174" cy="2523"/></g>
<g id="n508"><circle cx="207.3" cy="2502.7"/></g>
<g id="n509"><circle cx="207.3" cy="2523"/></g>
<g id="n510"><circle cx="240.7" cy="2502.7"/></g>
<g id="n511"><circle cx="240.7" cy="2523"/></g>
<g id="n512"><circle cx="240.7" cy="2543.3"/></g>
<g id="n513"><circle cx="240.7" cy="2563.5"/></g>
<g id="n514"><circle cx="240.7" cy="2583.8"/></g>
<g id="n515"><circle cx="240.7" cy="2604.1"/></g>
<g id="n516"><circle cx="307.3" cy="2502.7"/></g>
<g id="n517"><circle cx="307.3" cy="2523"/></g>
<g id="n518"><circle cx="307.3" cy="2543.3"/></g>
<g id="n519"><circle cx="307.3" cy="2563.5"/></g>
<g id="n520"><circle cx="340.7" cy="2502.7"/></g>
<g id="n521"><circle cx="340.7" cy="2523"/></g>
<g id="n522"><circle cx="290" cy="2583.8"/></g>
<g id="n523"><circle cx="290" cy="2604.1"/></g>
<g id="n524"><circle cx="323.3" cy="2583.8"/></g>
<g id="n525"><circle cx="323.3" cy="2604.1"/></g>
<g id="n526"><circle cx="323.3" cy="2624.3"/></g>
<g id="n527"><circle cx="323.3" cy="2644.6"/></g>
<g id="n528"><circle cx="323.3" cy="2664.8"/></g>
<g id="n529"><circle cx="323.3" cy="2685.1"/></g>
<g id="n530"><circle cx="374" cy="2502.7"/></g>
<g id="n531"><circle cx="374" cy="2523"/></g>
<g id="n532"><circle cx="407.3" cy="2502.7"/></g>
<g id="n533"><circle cx="407.3" cy="2523"/></g>
<g id="n534"><circle cx="407.3" cy="2543.3"/></g>
<g id="n535"><circle cx="407.3" cy="2563.5"/></g>
<g id="n536"><circle cx="407.3" cy="2583.8"/></g>
<g id="n537"><circle cx="407.3" cy="2604.1"/></g>
<g id="n538"><circle cx="390" cy="2624.3"/></g>
<g id="n539"><circle cx="390" cy="2644.6"/></g>
<g id="n540"><circle cx="390" cy="2664.8"/></g>
<g id="n541"><circle cx="390" cy="2685.1"/></g>
<g id="n542"><circle cx="423.3" cy="2624.3"/></g>
<g id="n543"><circle cx="423.3" cy="2644.6"/></g>
<g id="n544"><circle cx="423.3" cy="2664.8"/></g>
<g id="n545"><circle cx="423.3" cy="2685.1"/></g>
<g id="n546"><circle cx="423.3" cy="2705.4"/></g>
<g id="n547"><circle cx="423.3" cy="2725.6"/></g>
<g id="n548"><circle cx="423.3" cy="2745.9"/></g>
<g id="n549"><circle cx="423.3" cy="2766.2"/></g>
<g id="n550"><circle cx="290" cy="2705.4"/></g>
<g id="n551"><circle cx="290" cy="2725.6"/></g>
<g id="n552"><circle cx="290" cy="2745.9"/></g>
<g id="n553"><circle cx="290" cy="2766.2"/></g>
<g id="n554"><circle cx="290" cy="2786.4"/></g>
<g id="n555"><circle cx="290" cy="2806.7"/></g>
<g id="n556"><circle cx="323.3" cy="2705.4"/></g>
<g id="n557"><circle cx="323.3" cy="2725.6"/></g>
<g id="n558"><circle cx="323.3" cy="2745.9"/></g>
<g id="n559"><circle cx="323.3" cy="2766.2"/></g>
<g id="n560"><circle cx="323.3" cy="2786.4"/></g>
<g id="n561"><circle cx="323.3" cy="2806.7"/></g>
<g id="n562"><circle cx="356.7" cy="2705.4"/></g>
<g id="n563"><circle cx="356.7" cy="2725.6"/></g>
<g id="n564"><circle cx="356.7" cy="2745.9"/></g>
<g id="n565"><circle cx="356.7" cy="2766.2"/></g>
<g id="n566"><circle cx="274" cy="2827"/></g>
<g id="n567"><circle cx="274" cy="2847.2"/></g>
<g id="n568"><circle cx="307.3" cy="2827"/></g>
<g id="n569"><circle cx="307.3" cy="2847.2"/></g>
<g id="n570"><circle cx="274" cy="2867.5"/></g>
<g id="n571"><circle cx="274" cy="2887.8"/></g>
<g id="n572"><circle cx="274" cy="2908"/></g>
<g id="n573"><circle cx="274" cy="2928.3"/></g>
<g id="n574"><circle cx="307.3" cy="2867.5"/></g>
<g id="n575"><circle cx="307.3" cy="2887.8"/></g>
<g id="n576"><circle cx="340.7" cy="2867.5"/></g>
<g id="n577"><circle cx="340.7" cy="2887.8"/></g>
<g id="n578"><circle cx="340.7" cy="2908"/></g>
<g id="n579"><circle cx="340.7" cy="2928.3"/></g>
<g id="n580"><circle cx="240.7" cy="2948.6"/></g>
<g id="n581"><circle cx="240.7" cy="2968.8"/></g>
<g id="n582"><circle cx="240.7" cy="2989.1"/></g>
<g id="n583"><circle cx="224.7" cy="3009.4"/></g>
<g id="n584"><circle cx="224.7" cy="3029.6"/></g>
<g id="n585"><circle cx="224.7" cy="3049.9"/></g>
<g id="n586"><circle cx="224.7" cy="3070.2"/></g>
<g id="n587"><circle cx="224.7" cy="3090.4"/></g>
<g id="n588"><circle cx="274" cy="2948.6"/></g>
<g id="n589"><circle cx="274" cy="2968.8"/></g>
<g id="n590"><circle cx="274" cy="2989.1"/></g>
<g id="n591"><circle cx="274" cy="3009.4"/></g>
<g id="n592"><circle cx="274" cy="3029.6"/></g>
<g id="n593"><circle cx="274" cy="3049.9"/></g>
<g id="n594"><circle cx="274" cy="3070.2"/></g>
<g id="n595"><circle cx="274" cy="3090.4"/></g>
<g id="n596"><circle cx="340.7" cy="2948.6"/></g>
<g id="n597"><circle cx="340.7" cy="2968.8"/></g>
<g id="n598"><circle cx="378" cy="2948.6"/></g>
<g id="n599"><circle cx="382" cy="2968.8"/></g>
<g id="n600"><circle cx="390" cy="2989.1"/></g>
<g id="n601"><circle cx="398" cy="3009.4"/></g>
<g id="n602"><circle cx="402" cy="3029.6"/></g>
<g id="n603"><circle cx="404.7" cy="3049.9"/></g>
<g id="n604"><circle cx="407.3" cy="3070.2"/></g>
<g id="n605"><circle cx="407.3" cy="3090.4"/></g>
<g id="n606"><circle cx="407.3" cy="3110.7"/></g>
<g id="n607"><circle cx="407.3" cy="3131"/></g>
<g id="n608"><circle cx="307.3" cy="2989.1"/></g>
<g id="n609"><circle cx="307.3" cy="3009.4"/></g>
<g id="n610"><circle cx="307.3" cy="3029.6"/></g>
<g id="n611"><circle cx="307.3" cy="3049.9"/></g>
<g id="n612"><circle cx="340.7" cy="2989.1"/></g>
<g id="n613"><circle cx="340.7" cy="3009.4"/></g>
<g id="n614"><circle cx="340.7" cy="3029.6"/></g>
<g id="n615"><circle cx="340.7" cy="3049.9"/></g>
<g id="n616"><circle cx="307.3" cy="3070.2"/></g>
<g id="n617"><circle cx="307.3" cy="3090.4"/></g>
<g id="n618"><circle cx="307.3" cy="3110.7"/></g>
<g id="n619"><circle cx="307.3" cy="3131"/></g>
<g id="n620"><circle cx="340.7" cy="3070.2"/></g>
<g id="n621"><circle cx="340.7" cy="3090.4"/></g>
<g id="n622"><circle cx="374" cy="3070.2"/></g>
<g id="n623"><circle cx="374" cy="3090.4"/></g>
<g id="n624"><circle cx="374" cy="3110.7"/></g>
<g id="n625"><circle cx="374" cy="3131"/></g>
<g id="n626"><circle cx="374" cy="3151.2"/></g>
<g id="n627"><circle cx="374" cy="3171.5"/></g>
<g id="n628"><circle cx="407.3" cy="3151.2"/></g>
<g id="n629"><circle cx="407.3" cy="3171.5"/></g>
<g id="n630"><circle cx="440.7" cy="3151.2"/></g>
<g id="n631"><circle cx="440.7" cy="3171.5"/></g>
<g id="n632"><circle cx="440.7" cy="3191.8"/></g>
<g id="n633"><circle cx="440.7" cy="3212"/></g>
<g id="n634"><circle cx="374" cy="3191.8"/></g>
<g id="n635"><circle cx="374" cy="3212"/></g>
<g id="n636"><circle cx="407.3" cy="3191.8"/></g>
<g id="n637"><circle cx="407.3" cy="3212"/></g>
<g id="n638"><circle cx="407.3" cy="3232.3"/></g>
<g id="n639"><circle cx="407.3" cy="3252.6"/></g>
<g id="n640"><circle cx="340.7" cy="3232.3"/></g>
<g id="n641"><circle cx="340.7" cy="3252.6"/></g>
<g id="n642"><circle cx="340.7" cy="3272.8"/></g>
<g id="n643"><circle cx="340.7" cy="3293.1"/></g>
<g id="n644"><circle cx="374" cy="3232.3"/></g>
<g id="n645"><circle cx="374" cy="3252.6"/></g>
<g id="n646"><circle cx="374" cy="3272.8"/></g>
<g id="n647"><circle cx="374" cy="3293.1"/></g>
<g id="n648"><circle cx="374" cy="3313.4"/></g>
<g id="n649"><circle cx="374" cy="3333.6"/></g>
<g id="n650"><circle cx="374" cy="3353.9"/></g>
<g id="n651"><circle cx="374" cy="3374.2"/></g>
<g id="n652"><circle cx="407.3" cy="3353.9"/></g>
<g id="n653"><circle cx="407.3" cy="3374.2"/></g>
<g id="n654"><circle cx="191" cy="3110.7"/></g>
<g id="n655"><circle cx="191" cy="3131"/></g>
<g id="n656"><circle cx="184.7" cy="3151.2"/></g>
<g id="n657"><circle cx="184.7" cy="3171.5"/></g>
<g id="n658"><circle cx="184.7" cy="3191.8"/></g>
<g id="n659"><circle cx="184.7" cy="3212"/></g>
<g id="n660"><circle cx="224.7" cy="3110.7"/></g>
<g id="n661"><circle cx="224.7" cy="3131"/></g>
<g id="n662"><circle cx="139.3" cy="3232.3"/></g>
<g id="n663"><circle cx="139.3" cy="3252.6"/></g>
<g id="n664"><circle cx="184.7" cy="3232.3"/></g>
<g id="n665"><circle cx="184.7" cy="3252.6"/></g>
<g id="n666"><circle cx="104.7" cy="3272.8"/></g>
<g id="n667"><circle cx="88.7" cy="3293.1"/></g>
<g id="n668"><circle cx="80.7" cy="3313.4"/></g>
<g id="n669"><circle cx="76.7" cy="3333.6"/></g>
<g id="n670"><circle cx="139.3" cy="3272.8"/></g>
<g id="n671"><circle cx="139.3" cy="3293.1"/></g>
<g id="n672"><circle cx="139.3" cy="3313.4"/></g>
<g id="n673"><circle cx="139.3" cy="3333.6"/></g>
<g id="n674"><circle cx="139.3" cy="3353.9"/></g>
<g id="n675"><circle cx="139.3" cy="3374.2"/></g>
<g id="n676"><circle cx="139.3" cy="3394.4"/></g>
<g id="n677"><circle cx="139.3" cy="3414.7"/></g>
<g id="n678"><circle cx="43.3" cy="3353.9"/></g>
<g id="n679"><circle cx="43.3" cy="3374.2"/></g>
<g id="n680"><circle cx="76.7" cy="3353.9"/></g>
<g id="n681"><circle cx="76.7" cy="3374.2"/></g>
<g id="n682"><circle cx="76.7" cy="3394.4"/></g>
<g id="n683"><circle cx="76.7" cy="3414.7"/></g>
<g id="n684"><circle cx="75.3" cy="3435"/></g>
<g id="n685"><circle cx="75.3" cy="3455.2"/></g>
<g id="n686"><circle cx="10" cy="3394.4"/></g>
<g id="n687"><circle cx="10" cy="3414.7"/></g>
<g id="n688"><circle cx="10" cy="3435"/></g>
<g id="n689"><circle cx="10" cy="3455.2"/></g>
<g id="n690"><circle cx="10" cy="3475.5"/></g>
<g id="n691"><circle cx="10" cy="3495.8"/></g>
<g id="n692"><circle cx="43.3" cy="3394.4"/></g>
<g id="n693"><circle cx="43.3" cy="3414.7"/></g>
<g id="n694"><circle cx="108.7" cy="3435"/></g>
<g id="n695"><circle cx="108.7" cy="3455.2"/></g>
<g id="n696"><circle cx="142" cy="3435"/></g>
<g id="n697"><circle cx="142" cy="3455.2"/></g>
<g id="n698"><circle cx="108.7" cy="3475.5"/></g>
<g id="n699"><circle cx="108.7" cy="3495.8"/></g>
<g id="n700"><circle cx="108.7" cy="3516"/></g>
<g id="n701"><circle cx="108.7" cy="3536.3"/></g>
<g id="n702"><circle cx="108.7" cy="3556.6"/></g>
<g id="n703"><circle cx="108.7" cy="3576.8"/></g>
<g id="n704"><circle cx="108.7" cy="3597.1"/></g>
<g id="n705"><circle cx="108.7" cy="3617.4"/></g>
<g id="n706"><circle cx="108.7" cy="3637.6"/></g>
<g id="n707"><circle cx="108.7" cy="3657.9"/></g>
<g id="n708"><circle cx="108.7" cy="3678.1"/></g>
<g id="n709"><circle cx="108.7" cy="3698.4"/></g>
<g id="n710"><circle cx="108.7" cy="3718.7"/></g>
<g id="n711"><circle cx="108.7" cy="3738.9"/></g>
<g id="n712"><circle cx="142" cy="3475.5"/></g>
<g id="n713"><circle cx="142" cy="3495.8"/></g>
<g id="n714"><circle cx="175.3" cy="3475.5"/></g>
<g id="n715"><circle cx="175.3" cy="3495.8"/></g>
<g id="n716"><circle cx="158" cy="3516"/></g>
<g id="n717"><circle cx="158" cy="3536.3"/></g>
<g id="n718"><circle cx="191" cy="3516"/></g>
<g id="n719"><circle cx="191" cy="3536.3"/></g>
<g id="n720"><circle cx="191" cy="3556.6"/></g>
<g id="n721"><circle cx="191" cy="3576.8"/></g>
<g id="n722"><circle cx="191" cy="3597.1"/></g>
<g id="n723"><circle cx="191" cy="3617.4"/></g>
<g id="n724"><circle cx="191" cy="3637.6"/></g>
<g id="n725"><circle cx="191" cy="3657.9"/></g>
<g id="n726"><circle cx="224.7" cy="3151.2"/></g>
<g id="n727"><circle cx="224.7" cy="3171.5"/></g>
<g id="n728"><circle cx="224.7" cy="3191.8"/></g>
<g id="n729"><circle cx="224.7" cy="3212"/></g>
<g id="n730"><circle cx="224.7" cy="3232.3"/></g>
<g id="n731"><circle cx="224.7" cy="3252.6"/></g>
<g id="n732"><circle cx="258" cy="3151.2"/></g>
<g id="n733"><circle cx="258" cy="3171.5"/></g>
<g id="n734"><circle cx="258" cy="3191.8"/></g>
<g id="n735"><circle cx="258" cy="3212"/></g>
<g id="n736"><circle cx="258" cy="3232.3"/></g>
<g id="n737"><circle cx="258" cy="3252.6"/></g>
<g id="n738"><circle cx="222" cy="3272.8"/></g>
<g id="n739"><circle cx="220.7" cy="3293.1"/></g>
<g id="n740"><circle cx="220.7" cy="3313.4"/></g>
<g id="n741"><circle cx="220.7" cy="3333.6"/></g>
<g id="n742"><circle cx="220.7" cy="3353.9"/></g>
<g id="n743"><circle cx="212.7" cy="3374.2"/></g>
<g id="n744"><circle cx="208.7" cy="3394.4"/></g>
<g id="n745"><circle cx="208.7" cy="3414.7"/></g>
<g id="n746"><circle cx="282" cy="3272.8"/></g>
<g id="n747"><circle cx="307.3" cy="3293.1"/></g>
<g id="n748"><circle cx="175.3" cy="3435"/></g>
<g id="n749"><circle cx="175.3" cy="3455.2"/></g>
<g id="n750"><circle cx="208.7" cy="3435"/></g>
<g id="n751"><circle cx="208.7" cy="3455.2"/></g>
<g id="n752"><circle cx="208.7" cy="3475.5"/></g>
<g id="n753"><circle cx="208.7" cy="3495.8"/></g>
<g id="n754"><circle cx="307.3" cy="3313.4"/></g>
<g id="n755"><circle cx="307.3" cy="3333.6"/></g>
<g id="n756"><circle cx="340.7" cy="3313.4"/></g>
<g id="n757"><circle cx="340.7" cy="3333.6"/></g>
<g id="n758"><circle cx="340.7" cy="3353.9"/></g>
<g id="n759"><circle cx="340.7" cy="3374.2"/></g>
<g id="n760"><circle cx="358" cy="3394.4"/></g>
<g id="n761"><circle cx="366" cy="3414.7"/></g>
<g id="n762"><circle cx="375.3" cy="3435"/></g>
<g id="n763"><circle cx="375.3" cy="3455.2"/></g>
<g id="n764"><circle cx="274" cy="3353.9"/></g>
<g id="n765"><circle cx="274" cy="3374.2"/></g>
<g id="n766"><circle cx="307.3" cy="3353.9"/></g>
<g id="n767"><circle cx="307.3" cy="3374.2"/></g>
<g id="n768"><circle cx="308.7" cy="3394.4"/></g>
<g id="n769"><circle cx="308.7" cy="3414.7"/></g>
<g id="n770"><circle cx="242" cy="3394.4"/></g>
<g id="n771"><circle cx="242" cy="3414.7"/></g>
<g id="n772"><circle cx="242" cy="3435"/></g>
<g id="n773"><circle cx="242" cy="3455.2"/></g>
<g id="n774"><circle cx="275.3" cy="3394.4"/></g>
<g id="n775"><circle cx="275.3" cy="3414.7"/></g>
<g id="n776"><circle cx="275.3" cy="3435"/></g>
<g id="n777"><circle cx="275.3" cy="3455.2"/></g>
<g id="n778"><circle cx="308.7" cy="3435"/></g>
<g id="n779"><circle cx="308.7" cy="3455.2"/></g>
<g id="n780"><circle cx="342" cy="3435"/></g>
<g id="n781"><circle cx="342" cy="3455.2"/></g>
<g id="n782"><circle cx="291.3" cy="3475.5"/></g>
<g id="n783"><circle cx="291.3" cy="3495.8"/></g>
<g id="n784"><circle cx="324.7" cy="3475.5"/></g>
<g id="n785"><circle cx="324.7" cy="3495.8"/></g>
<g id="n786"><circle cx="324.7" cy="3516"/></g>
<g id="n787"><circle cx="324.7" cy="3536.3"/></g>
<g id="n788"><circle cx="324.7" cy="3556.6"/></g>
<g id="n789"><circle cx="324.7" cy="3576.8"/></g>
<g id="n790"><circle cx="258" cy="3516"/></g>
<g id="n791"><circle cx="258" cy="3536.3"/></g>
<g id="n792"><circle cx="291.3" cy="3516"/></g>
<g id="n793"><circle cx="291.3" cy="3536.3"/></g>
<g id="n794"><circle cx="242" cy="3556.6"/></g>
<g id="n795"><circle cx="242" cy="3576.8"/></g>
<g id="n796"><circle cx="275.3" cy="3556.6"/></g>
<g id="n797"><circle cx="275.3" cy="3576.8"/></g>
<g id="n798"><circle cx="242" cy="3597.1"/></g>
<g id="n799"><circle cx="242" cy="3617.4"/></g>
<g id="n800"><circle cx="275.3" cy="3597.1"/></g>
<g id="n801"><circle cx="275.3" cy="3617.4"/></g>
<g id="n802"><circle cx="275.3" cy="3637.6"/></g>
<g id="n803"><circle cx="275.3" cy="3657.9"/></g>
<g id="n804"><circle cx="275.3" cy="3678.1"/></g>
<g id="n805"><circle cx="275.3" cy="3698.4"/></g>
<g id="n806"><circle cx="275.3" cy="3718.7"/></g>
<g id="n807"><circle cx="275.3" cy="3738.9"/></g>
<g id="n808"><circle cx="275.3" cy="3759.2"/></g>
<g id="n809"><circle cx="275.3" cy="3779.5"/></g>
<g id="n810"><circle cx="308.7" cy="3597.1"/></g>
<g id="n811"><circle cx="308.7" cy="3617.4"/></g>
<g id="n812"><circle cx="367.3" cy="3475.5"/></g>
<g id="n813"><circle cx="367.3" cy="3495.8"/></g>
<g id="n814"><circle cx="400.7" cy="3475.5"/></g>
<g id="n815"><circle cx="400.7" cy="3495.8"/></g>
<g id="n816"><circle cx="395.3" cy="3516"/></g>
<g id="n817"><circle cx="395.3" cy="3536.3"/></g>
<g id="n818"><circle cx="428.7" cy="3516"/></g>
<g id="n819"><circle cx="428.7" cy="3536.3"/></g>
<g id="n820"><circle cx="428.7" cy="3556.6"/></g>
<g id="n821"><circle cx="428.7" cy="3576.8"/></g>
<g id="n822"><circle cx="428.7" cy="3597.1"/></g>
<g id="n823"><circle cx="428.7" cy="3617.4"/></g>
<g id="n824"><circle cx="362" cy="3556.6"/></g>
<g id="n825"><circle cx="362" cy="3576.8"/></g>
<g id="n826"><circle cx="362" cy="3597.1"/></g>
<g id="n827"><circle cx="362" cy="3617.4"/></g>
<g id="n828"><circle cx="395.3" cy="3556.6"/></g>
<g id="n829"><circle cx="395.3" cy="3576.8"/></g>
<g id="n830"><circle cx="395.3" cy="3597.1"/></g>
<g id="n831"><circle cx="395.3" cy="3617.4"/></g>
<g id="n832"><circle cx="395.3" cy="3637.6"/></g>
<g id="n833"><circle cx="395.3" cy="3657.9"/></g>
<g id="n834"><circle cx="395.3" cy="3678.1"/></g>
<g id="n835"><circle cx="395.3" cy="3698.4"/></g>
<g id="n836"><circle cx="362" cy="3718.7"/></g>
<g id="n837"><circle cx="362" cy="3738.9"/></g>
<g id="n838"><circle cx="395.3" cy="3718.7"/></g>
<g id="n839"><circle cx="395.3" cy="3738.9"/></g>
<g id="n840"><circle cx="428.7" cy="3718.7"/></g>
<g id="n841"><circle cx="428.7" cy="3738.9"/></g>
<g id="n842"><circle cx="428.7" cy="3759.2"/></g>
<g id="n843"><circle cx="428.7" cy="3779.5"/></g>
<g id="n844"><circle cx="75.3" cy="3759.2"/></g>
<g id="n845"><circle cx="75.3" cy="3779.5"/></g>
<g id="n846"><circle cx="108.7" cy="3759.2"/></g>
<g id="n847"><circle cx="108.7" cy="3779.5"/></g>
<g id="n848"><circle cx="142" cy="3759.2"/></g>
<g id="n849"><circle cx="142" cy="3779.5"/></g>
<g id="n850"><circle cx="124.7" cy="3799.7"/></g>
<g id="n851"><circle cx="124.7" cy="3820"/></g>
<g id="n852"><circle cx="158" cy="3799.7"/></g>
<g id="n853"><circle cx="158" cy="3820"/></g>
<g id="n854"><circle cx="108.7" cy="3840.3"/></g>
<g id="n855"><circle cx="108.7" cy="3860.5"/></g>
<g id="n856"><circle cx="142" cy="3840.3"/></g>
<g id="n857"><circle cx="142" cy="3860.5"/></g>
<g id="n858"><circle cx="75.3" cy="3880.8"/></g>
<g id="n859"><circle cx="75.3" cy="3901.1"/></g>
<g id="n860"><circle cx="108.7" cy="3880.8"/></g>
<g id="n861"><circle cx="108.7" cy="3901.1"/></g>
<g id="n862"><circle cx="142" cy="3880.8"/></g>
<g id="n863"><circle cx="142" cy="3901.1"/></g>
<g id="n864"><circle cx="142" cy="3921.3"/></g>
<g id="n865"><circle cx="142" cy="3941.6"/></g>
<g id="n866"><circle cx="175.3" cy="3880.8"/></g>
<g id="n867"><circle cx="175.3" cy="3901.1"/></g>
<g id="n868"><circle cx="175.3" cy="3921.3"/></g>
<g id="n869"><circle cx="175.3" cy="3941.6"/></g>
<g id="n870"><circle cx="208.7" cy="3921.3"/></g>
<g id="n871"><circle cx="208.7" cy="3941.6"/></g>
<g id="n872"><circle cx="208.7" cy="3961.9"/></g>
<g id="n873"><circle cx="208.7" cy="3982.1"/></g>
<g id="n874"><circle cx="126" cy="3961.9"/></g>
<g id="n875"><circle cx="126" cy="3982.1"/></g>
<g id="n876"><circle cx="159.3" cy="3961.9"/></g>
<g id="n877"><circle cx="159.3" cy="3982.1"/></g>
<g id="n878"><circle cx="110" cy="4002.4"/></g>
<g id="n879"><circle cx="110" cy="4022.7"/></g>
<g id="n880"><circle cx="143.3" cy="4002.4"/></g>
<g id="n881"><circle cx="143.3" cy="4022.7"/></g>
</g>
</svg>
